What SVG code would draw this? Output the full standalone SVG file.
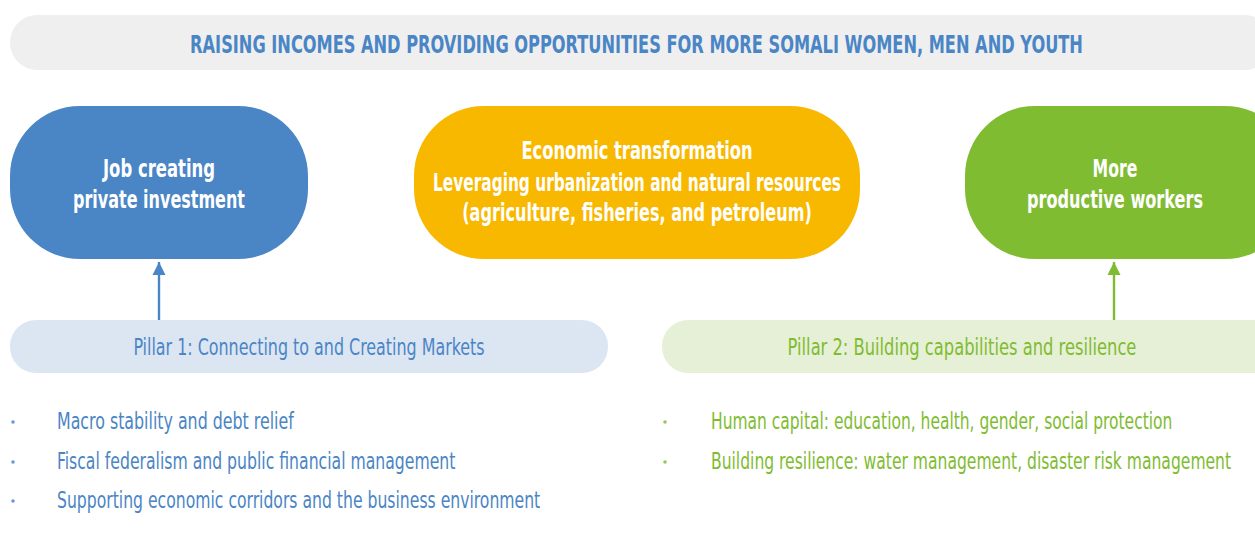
<svg xmlns="http://www.w3.org/2000/svg" width="1255" height="551" viewBox="0 0 1255 551">
  <style>
    text { font-family: "Liberation Sans Narrow", "DejaVu Sans Condensed", "Liberation Sans", sans-serif; }
    .title { font-size: 24px; font-weight: bold; fill: #4a85c6; text-anchor: middle; }
    .node-label { font-size: 25px; font-weight: bold; fill: #ffffff; text-anchor: middle; }
    .pillar1 { font-size: 23px; fill: #4a85c6; text-anchor: middle; }
    .pillar2 { font-size: 23px; fill: #80bc31; text-anchor: middle; }
    .item-blue { font-size: 23px; fill: #4a85c6; }
    .item-green { font-size: 23px; fill: #80bc31; }
    .dot-blue { fill: #6a9ad0; }
    .dot-green { fill: #98c95a; }
  </style>
  <defs>
    <marker id="head-blue" viewBox="0 0 10 10" refX="10" refY="5" markerWidth="5.5" markerHeight="5.5" orient="auto" markerUnits="strokeWidth">
      <path d="M0,0 L10,5 L0,10 Z" fill="#4a85c6"/>
    </marker>
    <marker id="head-green" viewBox="0 0 10 10" refX="10" refY="5" markerWidth="5.5" markerHeight="5.5" orient="auto" markerUnits="strokeWidth">
      <path d="M0,0 L10,5 L0,10 Z" fill="#80bc31"/>
    </marker>
  </defs>

  <rect width="1255" height="551" fill="#ffffff"/>

  <!-- headline banner; labels use a condensed face narrowed further by a horizontal scale -->
  <g id="goal">
    <rect x="10" y="15" width="1262" height="55" rx="27" fill="#efefef"/>
    <text class="title" transform="translate(636.5,53) scale(0.8,1)" textLength="1116" lengthAdjust="spacingAndGlyphs">RAISING INCOMES AND PROVIDING OPPORTUNITIES FOR MORE SOMALI WOMEN, MEN AND YOUTH</text>
  </g>

  <!-- outcome nodes -->
  <g id="private-investment">
    <rect x="10" y="106" width="298" height="153" rx="70" fill="#4a85c6"/>
    <text class="node-label" transform="translate(159,177) scale(0.8,1)" textLength="140" lengthAdjust="spacingAndGlyphs">Job creating</text>
    <text class="node-label" transform="translate(159,208) scale(0.8,1)" textLength="215" lengthAdjust="spacingAndGlyphs">private investment</text>
  </g>

  <g id="economic-transformation">
    <rect x="414" y="106" width="446" height="153" rx="70" fill="#f8b800"/>
    <text class="node-label" transform="translate(637,159) scale(0.8,1)" textLength="289" lengthAdjust="spacingAndGlyphs">Economic transformation</text>
    <text class="node-label" transform="translate(637,191) scale(0.8,1)" textLength="510" lengthAdjust="spacingAndGlyphs">Leveraging urbanization and natural resources</text>
    <text class="node-label" transform="translate(637,221) scale(0.8,1)" textLength="437" lengthAdjust="spacingAndGlyphs">(agriculture, fisheries, and petroleum)</text>
  </g>

  <g id="productive-workers">
    <rect x="965" y="106" width="330" height="153" rx="70" fill="#80bc31"/>
    <text class="node-label" transform="translate(1115,177) scale(0.8,1)" textLength="56" lengthAdjust="spacingAndGlyphs">More</text>
    <text class="node-label" transform="translate(1115,208) scale(0.8,1)" textLength="220" lengthAdjust="spacingAndGlyphs">productive workers</text>
  </g>

  <!-- pillars -->
  <g id="pillar-1">
    <rect x="10" y="320" width="598" height="53" rx="26" fill="#dce6f2"/>
    <text class="pillar1" transform="translate(309,355) scale(0.8,1)" textLength="439" lengthAdjust="spacingAndGlyphs">Pillar 1: Connecting to and Creating Markets</text>
  </g>

  <g id="pillar-2">
    <rect x="662" y="320" width="630" height="53" rx="26" fill="#e6f0d6"/>
    <text class="pillar2" transform="translate(962,355) scale(0.8,1)" textLength="436" lengthAdjust="spacingAndGlyphs">Pillar 2: Building capabilities and resilience</text>
  </g>

  <!-- connectors -->
  <g id="connectors" stroke-width="2.4" fill="none">
    <line x1="159" y1="320" x2="159" y2="262" stroke="#4a85c6" marker-end="url(#head-blue)"/>
    <line x1="1114" y1="320" x2="1114" y2="262" stroke="#80bc31" marker-end="url(#head-green)"/>
  </g>

  <!-- pillar 1 items -->
  <g id="pillar-1-items">
    <circle class="dot-blue" cx="13" cy="422" r="1.8"/>
    <text class="item-blue" transform="translate(57,429) scale(0.8,1)" textLength="296" lengthAdjust="spacingAndGlyphs">Macro stability and debt relief</text>
    <circle class="dot-blue" cx="13" cy="462" r="1.8"/>
    <text class="item-blue" transform="translate(57,469) scale(0.8,1)" textLength="498" lengthAdjust="spacingAndGlyphs">Fiscal federalism and public financial management</text>
    <circle class="dot-blue" cx="13" cy="501" r="1.8"/>
    <text class="item-blue" transform="translate(57,508) scale(0.8,1)" textLength="604" lengthAdjust="spacingAndGlyphs">Supporting economic corridors and the business environment</text>
  </g>

  <!-- pillar 2 items -->
  <g id="pillar-2-items">
    <circle class="dot-green" cx="665" cy="422" r="1.8"/>
    <text class="item-green" transform="translate(711,429) scale(0.7,1)" textLength="659" lengthAdjust="spacingAndGlyphs">Human capital: education, health, gender, social protection</text>
    <circle class="dot-green" cx="665" cy="462" r="1.8"/>
    <text class="item-green" transform="translate(711,469) scale(0.7,1)" textLength="743" lengthAdjust="spacingAndGlyphs">Building resilience: water management, disaster risk management</text>
  </g>
</svg>
